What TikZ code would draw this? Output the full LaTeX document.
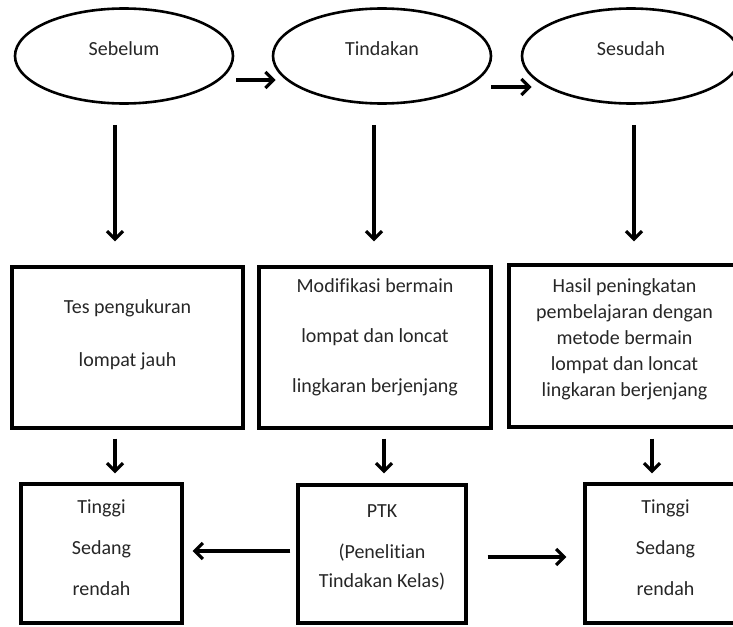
\documentclass[tikz,border=0pt]{standalone}
\usepackage{fontspec}
\setmainfont{Carlito}[Ligatures=NoCommon]
\usetikzlibrary{positioning,arrows.meta,shapes.geometric}

\begin{document}
\begin{tikzpicture}[x=1pt, y=-1pt,
    oval/.style={draw, ellipse, line width=2.6pt, minimum width=218pt,
                 minimum height=95pt, inner sep=0pt, text depth=14pt},
    kotak/.style={draw, line width=3.2pt, align=center, inner sep=0pt},
    panah/.style={-{Straight Barb[length=8pt,width=16pt]}, line width=3.2pt},
    font=\fontsize{20}{26}\selectfont, text=black!85,
  ]
  \useasboundingbox (0,0) rectangle (733,626);
  % tahap penelitian
  \node[oval] (sebelum)  at (124,56) {Sebelum};
  \node[oval] (tindakan) at (382,56) {Tindakan};
  \node[oval] (sesudah)  at (631,56) {Sesudah};
  % kotak tengah
  \node[kotak, minimum width=231pt, minimum height=161pt, text depth=29pt]
    (tes) at (127.5,347.5) {Tes pengukuran\\[27pt]lompat jauh};
  \node[kotak, minimum width=232pt, minimum height=161pt, text depth=24pt]
    (modif) at (375,347.5) {Modifikasi bermain\\[24pt]lompat dan loncat\\[24pt]lingkaran berjenjang};
  \node[kotak, minimum width=231pt, minimum height=162pt, text depth=16pt]
    (hasil) at (624.5,346) {Hasil peningkatan\\pembelajaran dengan\\metode bermain\\lompat dan loncat\\lingkaran berjenjang};
  % kotak bawah
  \node[kotak, minimum width=161pt, minimum height=139pt, text depth=12pt]
    (awal) at (101.5,553.5) {Tinggi\\[15pt]Sedang\\[15pt]rendah};
  \node[kotak, minimum width=168pt, minimum height=138pt, text depth=16pt]
    (ptk) at (382,554) {PTK\\[15pt](Penelitian\\[3pt]Tindakan Kelas)};
  \node[kotak, minimum width=161pt, minimum height=139pt, text depth=12pt]
    (akhir) at (665.5,553.5) {Tinggi\\[15pt]Sedang\\[15pt]rendah};
  % panah
  \draw[panah] ([xshift=2pt,yshift=-24pt]sebelum.east) -- ([xshift=4pt,yshift=-24pt]tindakan.west);
  \draw[panah] ([xshift=-1pt,yshift=-31pt]tindakan.east) -- ([xshift=11pt,yshift=-31pt]sesudah.west);
  \draw[panah, shorten <=20pt, shorten >=24pt] ([xshift=-9pt]sebelum.south) -- ([xshift=-9pt]sebelum.south |- tes.north);
  \draw[panah, shorten <=20pt, shorten >=24pt] ([xshift=-8pt]tindakan.south) -- ([xshift=-8pt]tindakan.south |- modif.north);
  \draw[panah, shorten <=20pt, shorten >=22pt] ([xshift=3pt]sesudah.south) -- ([xshift=3pt]sesudah.south |- hasil.north);
  \draw[panah, shorten <=9pt, shorten >=9pt] ([xshift=-12.5pt]tes.south) -- ([xshift=-12.5pt]tes.south |- awal.north);
  \draw[panah, shorten <=9pt, shorten >=10pt] ([xshift=9pt]modif.south) -- ([xshift=9pt]modif.south |- ptk.north);
  \draw[panah, shorten <=10pt, shorten >=9pt] ([xshift=27.5pt]hasil.south) -- ([xshift=27.5pt]hasil.south |- akhir.north);
  \draw[panah, shorten <=6pt, shorten >=9pt] ([yshift=3pt]ptk.west) -- ([yshift=3pt]ptk.west -| awal.east);
  \draw[panah, shorten <=20pt, shorten >=17pt] ([yshift=-3pt]ptk.east) -- ([yshift=-3pt]ptk.east -| akhir.west);
\end{tikzpicture}
\end{document}
